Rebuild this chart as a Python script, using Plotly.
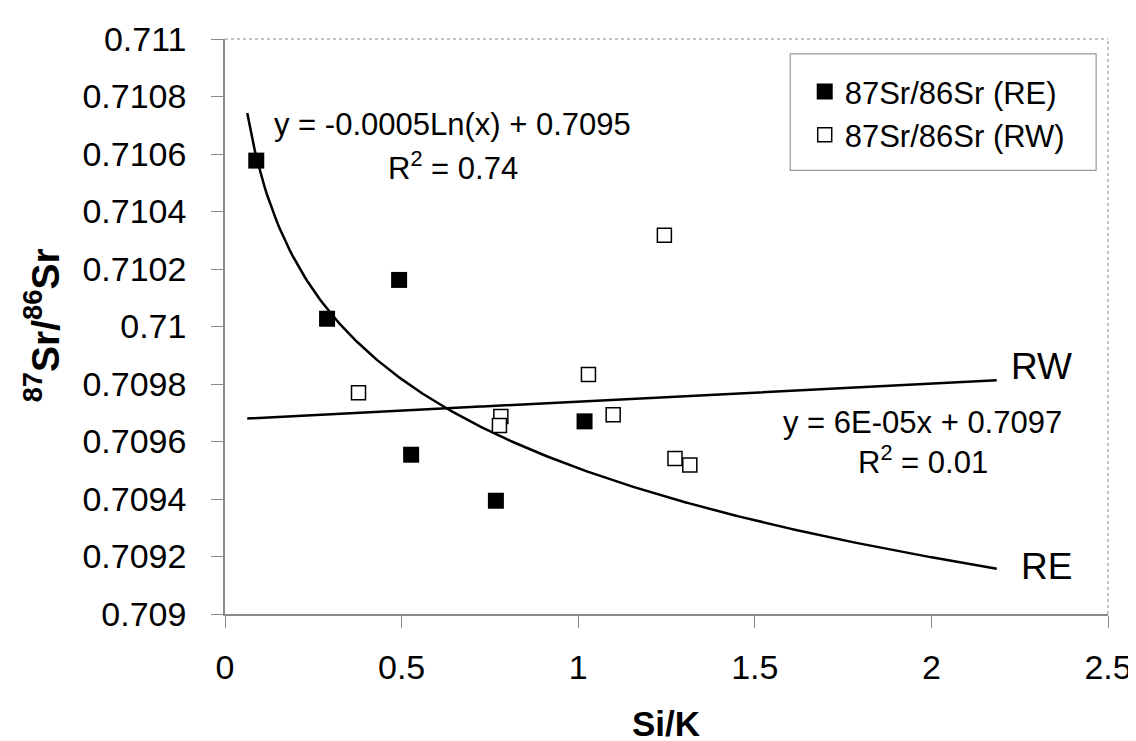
import numpy as np
import plotly.graph_objects as go

# ---------------- data ----------------
re_x = [0.0885, 0.289, 0.493, 0.527, 0.767, 1.018]
re_y = [0.710577, 0.710027, 0.710162, 0.709554, 0.709394, 0.709670]

rw_x = [0.378, 0.781, 0.777, 1.029, 1.099, 1.244, 1.274, 1.316]
rw_y = [0.709770, 0.709687, 0.709656, 0.709833, 0.709693, 0.710317, 0.709541, 0.709518]

# trendline coefficients as drawn (unrounded estimates of the printed equations)
re_log_coef = [-0.000447, 0.709507]     # y = a*ln(x) + b
rw_lin_coef = [0.0000627, 0.709676]     # y = m*x + c
trend_x_range = [0.063, 2.185]          # extent of the drawn trendlines (forecast)

x_tickvals = [0, 0.5, 1, 1.5, 2, 2.5]
x_ticktext = ["0", "0.5", "1", "1.5", "2", "2.5"]
y_tickvals = [0.709, 0.7092, 0.7094, 0.7096, 0.7098, 0.71, 0.7102, 0.7104, 0.7106, 0.7108, 0.711]
y_ticktext = ["0.709", "0.7092", "0.7094", "0.7096", "0.7098", "0.71",
              "0.7102", "0.7104", "0.7106", "0.7108", "0.711"]

x_title = "<b>Si/K</b>"
y_title = "<b><sup>87</sup>Sr/<sup>86</sup>Sr</b>"
re_name = "87Sr/86Sr (RE)"
rw_name = "87Sr/86Sr (RW)"
re_eq = "y = -0.0005Ln(x) + 0.7095"
re_r2 = "R<sup>2</sup> = 0.74"
rw_eq = "y = 6E-05x + 0.7097"
rw_r2 = "R<sup>2</sup> = 0.01"

# ---------------- trendlines ----------------
tx = np.linspace(trend_x_range[0], trend_x_range[1], 300)
re_fit = re_log_coef[0] * np.log(tx) + re_log_coef[1]
rw_fit = rw_lin_coef[0] * tx + rw_lin_coef[1]

FONT = "Liberation Sans, Arial, sans-serif"

fig = go.Figure()
fig.add_trace(go.Scatter(x=tx, y=re_fit, mode="lines", line=dict(color="black", width=2.5),
                         showlegend=False, hoverinfo="skip"))
fig.add_trace(go.Scatter(x=tx, y=rw_fit, mode="lines", line=dict(color="black", width=2.5),
                         showlegend=False, hoverinfo="skip"))
fig.add_trace(go.Scatter(x=re_x, y=re_y, mode="markers", name=re_name,
                         marker=dict(symbol="square", size=16, color="black",
                                     line=dict(color="black", width=0))))
fig.add_trace(go.Scatter(x=rw_x, y=rw_y, mode="markers", name=rw_name,
                         marker=dict(symbol="square", size=14, color="white",
                                     line=dict(color="black", width=1.5))))

axis_line = "#8a8a8a"
fig.update_layout(
    width=1136, height=741,
    margin=dict(l=217, r=27, t=28, b=135),
    paper_bgcolor="white", plot_bgcolor="white",
    font=dict(family=FONT, color="black", size=34),
    xaxis=dict(range=[0, 2.5], tickvals=x_tickvals, ticktext=x_ticktext,
               showgrid=False, zeroline=False, showline=True, linecolor=axis_line, linewidth=1.5,
               ticks="outside", ticklen=12, tickcolor=axis_line, tickwidth=1.2,
               tickfont=dict(size=34, family=FONT), ticklabelstandoff=10),
    yaxis=dict(range=[0.709, 0.711], tickvals=y_tickvals, ticktext=y_ticktext,
               showgrid=False, zeroline=False, showline=True, linecolor=axis_line, linewidth=1.5,
               ticks="outside", ticklen=12, tickcolor=axis_line, tickwidth=1.2,
               tickfont=dict(size=34, family=FONT), ticklabelstandoff=18),
    legend=dict(x=0.652, y=0.955, xanchor="left", yanchor="top",
                bgcolor="rgba(0,0,0,0)", borderwidth=0,
                font=dict(size=31, family=FONT), indentation=4,
                itemsizing="trace", tracegroupgap=0),
    showlegend=True,
)

# light dotted frame at top and right of the plot area
fig.add_shape(type="line", xref="paper", yref="paper", x0=0, x1=1, y0=1, y1=1,
              line=dict(color="#b0b0b0", width=1.5, dash="dot"))
fig.add_shape(type="line", xref="paper", yref="paper", x0=1, x1=1, y0=0, y1=1,
              line=dict(color="#b0b0b0", width=1.5, dash="dot"))

def px_to_paper(px, py):
    return (px - 217) / 892.0, (606 - py) / 578.0

# legend frame
lx0, ly0 = px_to_paper(788, 160)
lx1, ly1 = px_to_paper(1097, 43)
fig.add_shape(type="rect", xref="paper", yref="paper", x0=lx0, x1=lx1, y0=ly0, y1=ly1,
              line=dict(color="#9a9a9a", width=1.2), fillcolor="white", layer="below")

def add_text(text, px, py, size, angle=0):
    x, y = px_to_paper(px, py)
    fig.add_annotation(text=text, x=x, y=y, xref="paper", yref="paper",
                       showarrow=False, xanchor="center", yanchor="middle", textangle=angle,
                       font=dict(size=size, family=FONT, color="black"))

add_text(re_eq, 447, 114, 31)
add_text(re_r2, 447, 156, 31)
add_text(rw_eq, 922, 413, 31)
add_text(rw_r2, 922, 451, 31)
add_text("RW", 1042, 357, 37)
add_text("RE", 1047, 558, 37)

# axis titles
add_text(x_title, 662, 716, 35)
add_text(y_title, 32, 316, 39, angle=-90)

fig.write_html("out.html")
